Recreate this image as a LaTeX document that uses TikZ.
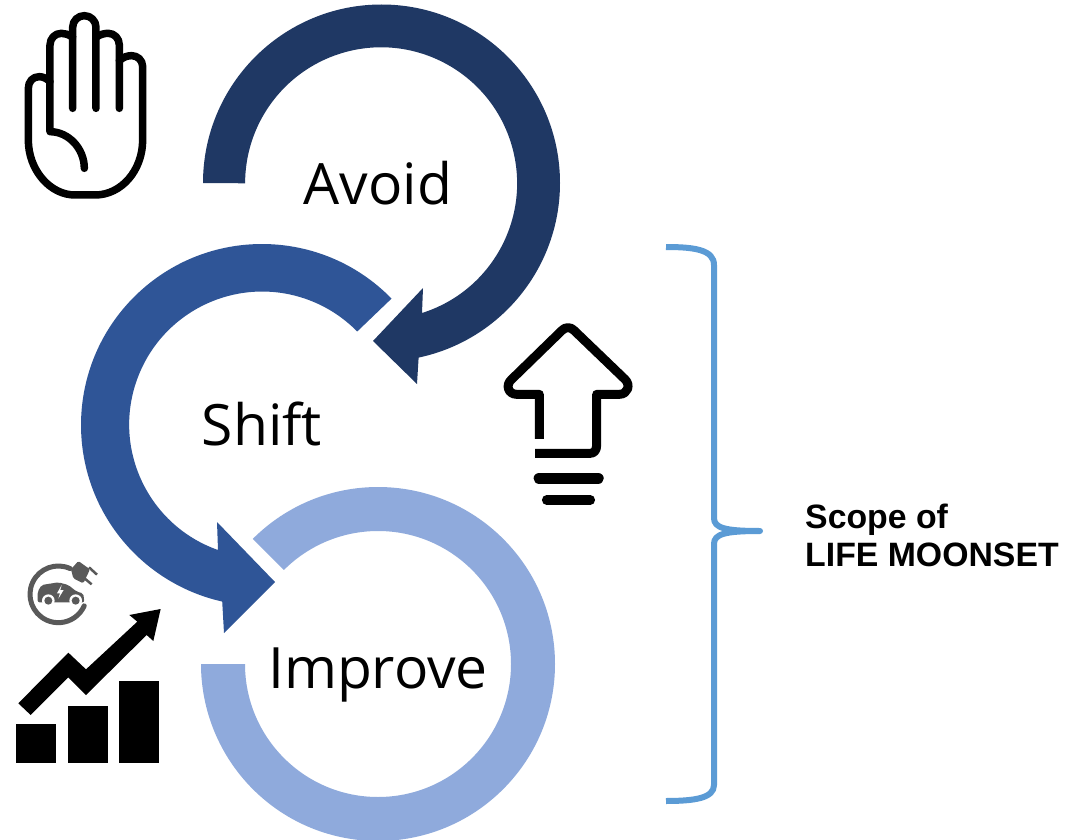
\documentclass[tikz,border=0pt]{standalone}
\usepackage{fontspec}
\setmainfont{Open Sans}
\newfontfamily\arialfont{Liberation Sans}
\usetikzlibrary{calc}
\definecolor{avoidc}{HTML}{1F3864}
\definecolor{shiftc}{HTML}{2F5597}
\definecolor{improvec}{HTML}{8FAADC}
\definecolor{bracec}{HTML}{5B9BD5}
\definecolor{evc}{HTML}{595959}
\tikzset{
  word/.style={font=\fontsize{57}{57}\selectfont,inner sep=0pt,text=black},
  scopetext/.style={font=\arialfont\bfseries\fontsize{33.8}{38}\selectfont,align=left,inner sep=0pt,anchor=west,text=black},
  handline/.style={draw=black,line width=7.5,line join=round,line cap=round},
  uparrow/.style={draw=black,line width=9,line join=round,line cap=butt},
  brace/.style={draw=bracec,line width=6,line join=round},
  zoomed/.style={x=0.33333pt,y=-0.33333pt},
}
\begin{document}
\begin{tikzpicture}[x=1pt,y=-1pt]
\useasboundingbox (0,0) rectangle (1069,840);
\fill[white] (0,0) rectangle (1069,840);
% Improve ring
\fill[improvec] (378,664) ++(-135:177) arc[start angle=-135,end angle=180,radius=177]
  -- ++(44,0) arc[start angle=180,end angle=-135,radius=133] -- cycle;
% Shift arrow
\fill[shiftc] (262,425) ++(-44.3:181) arc[start angle=-44.3,end angle=-257.3,radius=181]
  -- (224,633) -- (275,582) -- (217,522) -- (218,550)
  arc[start angle=-250.6,end angle=-44.4,radius=133] -- cycle;
% Avoid arrow
\fill[avoidc] (203,183) arc[start angle=180,end angle=438,radius=178.5]
  -- (417,384) -- (373,341) -- (423,288) -- (422,313)
  arc[start angle=432.5,end angle=180,radius=136] -- cycle;
% Labels
\node[word] (avoid) at (378,183) {Avoid};
\node[word] (shift) at (262,424) {Shift};
\node[word] (improve) at (378,675) {Improve};
\node[scopetext] (scope) at (805,535) {Scope of\\LIFE MOONSET};
% Brace
\draw[brace] (666,247) .. controls (695,247) and (714,250) .. (714,265) -- (714,518)
  .. controls (714,528) and (725,531) .. (760,531)
  .. controls (725,531) and (714,534) .. (714,544) -- (714,785)
  .. controls (714,798) and (695,801) .. (666,801);
% Hand icon
\begin{scope}[zoomed]
\draw[handline] (150,245) .. controls (140,235) and (128,230) .. (118,230)
  .. controls (98,230) and (85,245) .. (85,265) -- (85,420)
  .. controls (85,510) and (150,585) .. (225,585) -- (285,585)
  .. controls (365,585) and (428,510) .. (428,420) -- (428,200)
  .. controls (428,180) and (412,167) .. (395,167)
  .. controls (385,167) and (370,170) .. (358,182);
\draw[handline] (358,325) -- (358,135) .. controls (358,115) and (343,100) .. (325,100)
  .. controls (313,100) and (300,103) .. (288,112);
\draw[handline] (288,325) -- (288,82) .. controls (288,62) and (272,47) .. (253,47)
  .. controls (234,47) and (218,62) .. (218,82) -- (218,325);
\draw[handline] (218,112) .. controls (205,103) and (195,100) .. (184,100)
  .. controls (165,100) and (150,115) .. (150,135) -- (150,395)
  .. controls (205,395) and (253,445) .. (253,505);
\end{scope}
% Up arrow icon
\begin{scope}[xshift=340pt,yshift=-260pt,zoomed]
\draw[uparrow] (598,537) -- (598,403) -- (530,403) .. controls (505,403) and (495,375) .. (515,358)
  -- (665,212) .. controls (675,200) and (693,200) .. (703,212)
  -- (855,358) .. controls (873,375) and (863,403) .. (838,403) -- (770,403) -- (770,555)
  .. controls (770,572) and (762,580) .. (750,580) -- (585,580);
\draw[draw=black,line width=11.5,line cap=round] (598,655) -- (774,655);
\draw[draw=black,line width=9.5,line cap=round] (620,720) -- (751,720);
\end{scope}
% Growth chart icon
\begin{scope}[yshift=-540pt,zoomed]
\fill[black] (48,553) rectangle (168,670);
\fill[black] (203,497) rectangle (325,670);
\fill[black] (358,422) rectangle (478,670);
\fill[black] (55,490) -- (205,338) -- (258,388) -- (412,245) -- (388,225) -- (482,207)
  -- (460,303) -- (440,285) -- (258,465) -- (205,412) -- (92,525) -- cycle;
\end{scope}
% EV icon
\begin{scope}[xshift=15pt,yshift=-550pt,zoomed]
\draw[evc,line width=5,line cap=round] (130,133) ++(-65:85) arc[start angle=-65,end angle=-336,radius=85];
\fill[evc,rounded corners=1.5pt] (190,33) -- (225,58) -- (205,100) -- (175,85) -- (168,58) -- cycle;
\draw[evc,line width=2.5] (222,52) -- (246,74);
\draw[evc,line width=2.5] (205,82) -- (230,103);
\fill[evc,rounded corners=2pt] (68,157) -- (68,125) -- (80,105) -- (130,97) -- (160,105) -- (185,125)
  -- (205,130) -- (208,157) -- cycle;
\fill[white] (100,152) circle[radius=19];
\fill[white] (182,152) circle[radius=19];
\fill[evc] (100,152) circle[radius=12];
\fill[evc] (182,152) circle[radius=12];
\fill[white] (140,105) -- (126,130) -- (135,130) -- (130,146) -- (146,120) -- (136,120) -- cycle;
\end{scope}
\end{tikzpicture}
\end{document}
